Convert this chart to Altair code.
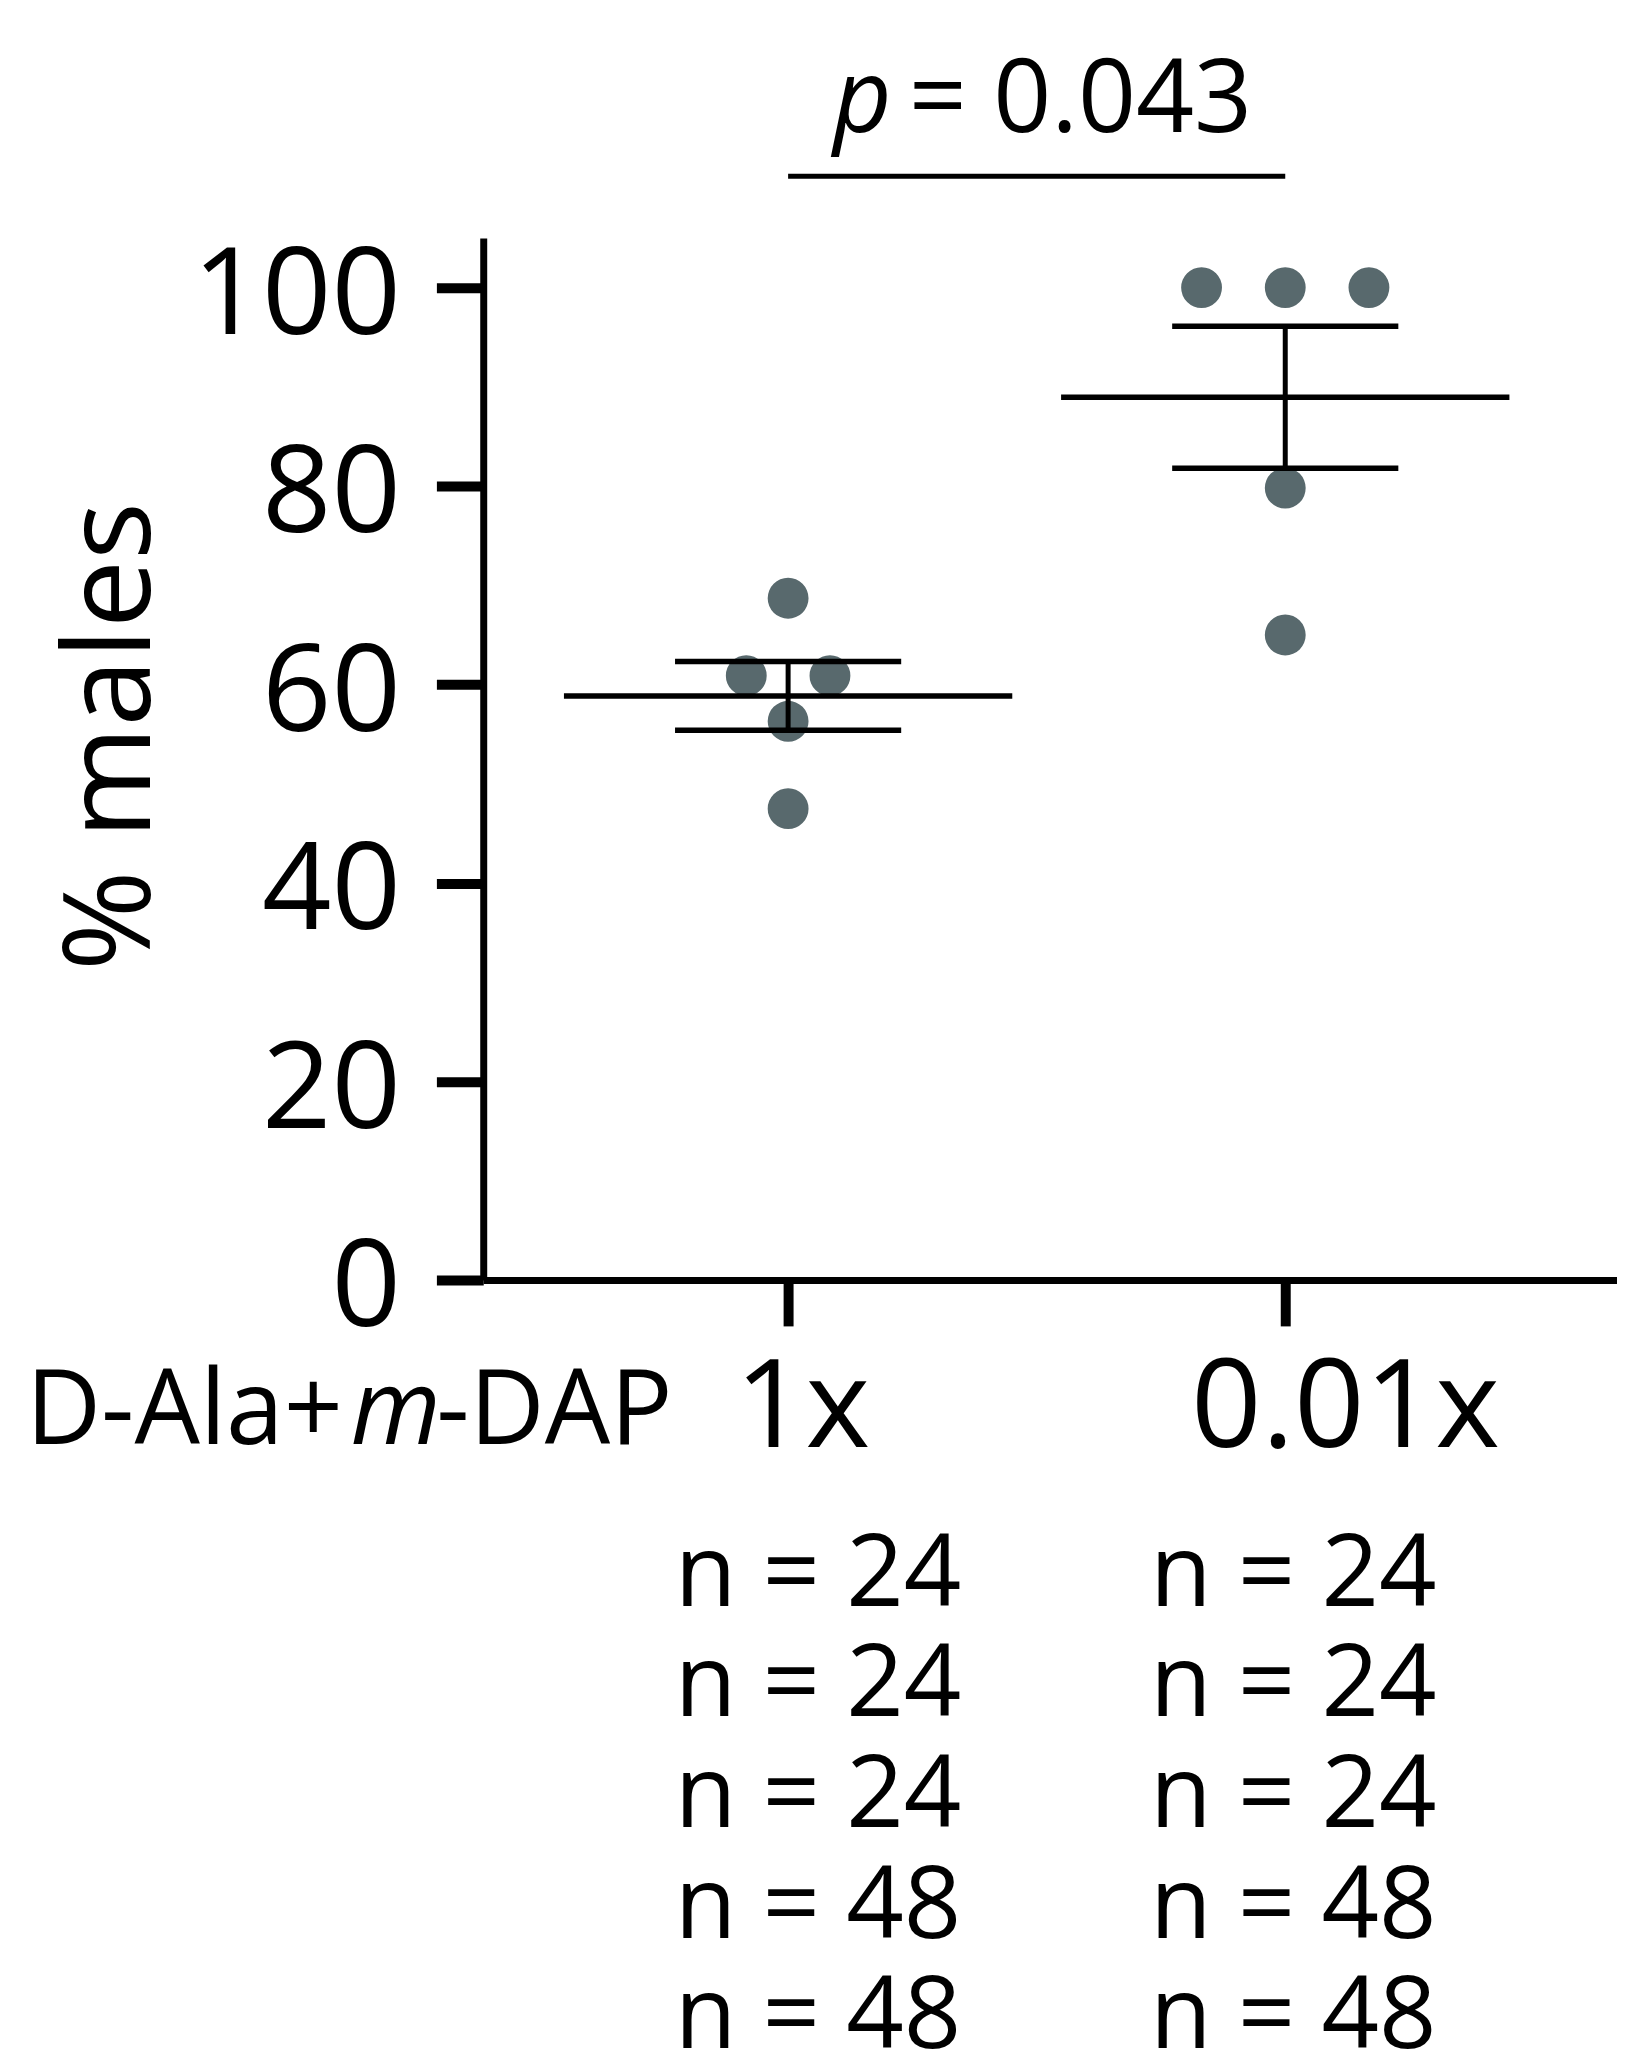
import altair as alt
import pandas as pd

# ---------------- data ----------------
groups = ["1x", "0.01x"]
values_1x = [68.7, 60.9, 60.9, 56.3, 47.5]
values_001x = [100.0, 100.0, 100.0, 79.8, 65.0]
n_1x = [24, 24, 24, 48, 48]
n_001x = [24, 24, 24, 48, 48]
y_ticks = [0, 20, 40, 60, 80, 100]
y_title = "% males"
p_symbol = "p"
p_value_text = "= 0.043"
row_label_parts = ["D-Ala+", "m", "-DAP"]

FONT = "Open Sans"
DOT = "#58696d"


def swarm_slots(vals):
    """Spread identical values side by side (symmetric slots)."""
    counts = {v: vals.count(v) for v in vals}
    seen = {}
    out = []
    for v in vals:
        i = seen.get(v, 0)
        seen[v] = i + 1
        out.append((i - (counts[v] - 1) / 2) * 2)
    return out


rows = []
for g, vals in zip(groups, [values_1x, values_001x]):
    for v, s in zip(vals, swarm_slots(vals)):
        rows.append({"group": g, "value": v, "slot": s})
df = pd.DataFrame(rows)

n_df = pd.DataFrame({
    "group": groups,
    "label": ["\n".join(f"n = {n}" for n in ns) for ns in [n_1x, n_001x]],
})
bracket_df = pd.DataFrame({"a": [groups[0]], "b": [groups[1]]})

# ---------------- scales & axes ----------------
x_scale = alt.Scale(type="point", domain=groups, padding=0.6403, align=0.4789)
y_scale = alt.Scale(domain=[0, 105], nice=False, zero=False)

x_axis = alt.Axis(
    title=None, labelFont=FONT, labelFontSize=124, labelColor="black",
    labelAngle=0, labelAlign="center", labelBaseline="top", labelPadding=23,
    labelLimit=0,
    labelOffset={"condition": {"test": "datum.value === '1x'", "value": 14}, "value": 60},
    tickSize=46, tickWidth=10, tickColor="black",
    domainWidth=7, domainColor="black", grid=False,
)
y_axis = alt.Axis(
    values=y_ticks, title=y_title, titleFont=FONT, titleFontSize=122,
    titleFontWeight="normal", titleColor="black", titleAngle=270,
    titleX=-335, titleY=500, titleAlign="center", titleBaseline="alphabetic",
    labelFont=FONT, labelFontSize=122, labelColor="black", labelPadding=36,
    labelOffset=9, labelFlush=False, labelOverlap=False, labelLimit=0,
    tickSize=47, tickWidth=10, tickColor="black",
    domainWidth=7, domainColor="black", grid=False,
)


def X(field):
    return alt.X(field, type="nominal", scale=x_scale, sort=groups, axis=x_axis)


def Y(field):
    return alt.Y(field, type="quantitative", scale=y_scale, axis=y_axis)


# ---------------- layers ----------------
points = alt.Chart(df).mark_circle(size=1681, opacity=1, color=DOT).encode(
    x=X("group"),
    xOffset=alt.XOffset("slot:Q", scale=alt.Scale(domain=[-1, 1], range=[-42, 42])),
    y=Y("value"),
)

stats = alt.Chart(df).transform_aggregate(
    mean="mean(value)", sem="stderr(value)", groupby=["group"]
).transform_calculate(lo="datum.mean - datum.sem", hi="datum.mean + datum.sem")

mean_line = stats.mark_tick(size=450, thickness=5.5, color="black", opacity=1).encode(
    x=X("group"), y=Y("mean"))
hi_cap = stats.mark_tick(size=227, thickness=5.5, color="black", opacity=1).encode(
    x=X("group"), y=Y("hi"))
lo_cap = stats.mark_tick(size=227, thickness=5.5, color="black", opacity=1).encode(
    x=X("group"), y=Y("lo"))
sem_line = stats.mark_rule(strokeWidth=5, color="black").encode(
    x=X("group"), y=Y("lo"), y2="hi:Q")

bracket = alt.Chart(bracket_df).mark_rule(strokeWidth=5, color="black").encode(
    x=X("a"), x2="b:N", y=alt.value(-62))

p_sym = alt.Chart(bracket_df).mark_text(
    text=p_symbol, font=FONT, fontStyle="italic", fontSize=102, align="right",
    baseline="alphabetic", color="black").encode(x=alt.value(410), y=alt.value(-106))
p_val = alt.Chart(bracket_df).mark_text(
    text=p_value_text, font=FONT, fontSize=102, align="left",
    baseline="alphabetic", color="black").encode(x=alt.value(427), y=alt.value(-106))

lab1 = alt.Chart(bracket_df).mark_text(
    text=row_label_parts[0], font=FONT, fontSize=104, align="left",
    baseline="alphabetic", color="black").encode(x=alt.value(-459), y=alt.value(1211))
lab2 = alt.Chart(bracket_df).mark_text(
    text=row_label_parts[1], font=FONT, fontStyle="italic", fontSize=104, align="center",
    baseline="alphabetic", color="black").encode(x=alt.value(-88), y=alt.value(1211))
lab3 = alt.Chart(bracket_df).mark_text(
    text=row_label_parts[2], font=FONT, fontSize=104, align="right",
    baseline="alphabetic", color="black").encode(x=alt.value(190), y=alt.value(1211))

n_dx = {"1x": 30, "0.01x": 8}
n_layers = [
    alt.Chart(n_df).transform_filter(alt.datum.group == g).mark_text(
        font=FONT, fontSize=101, lineHeight=111, lineBreak="\n", align="center",
        baseline="alphabetic", dx=n_dx[g], color="black",
    ).encode(x=X("group"), y=alt.value(1373), text="label:N")
    for g in groups
]

chart = alt.layer(
    points, mean_line, hi_cap, lo_cap, sem_line, bracket,
    p_sym, p_val, lab1, lab2, lab3, *n_layers,
).properties(
    width=1138, height=1046,
    autosize=alt.AutoSizeParams(type="none"),
    padding={"left": 477, "top": 227, "right": 0, "bottom": 774},
    background="white",
    view=alt.ViewBackground(strokeWidth=0, strokeOpacity=0, fillOpacity=0),
).configure_view(strokeWidth=0, strokeOpacity=0).configure(font=FONT)

chart.save("out.html", embed_options={"renderer": "svg", "actions": False})
